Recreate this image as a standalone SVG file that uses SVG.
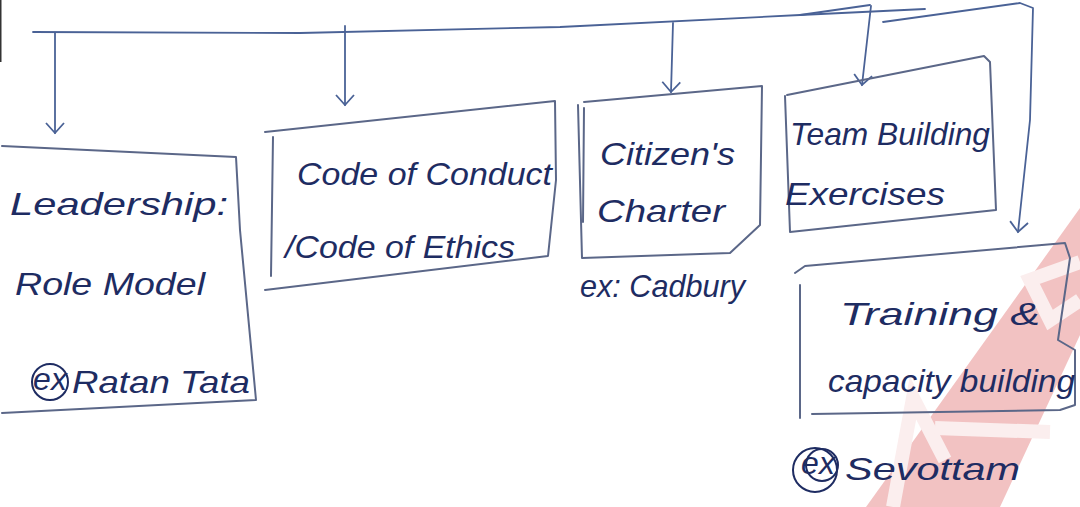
<svg xmlns="http://www.w3.org/2000/svg" width="1080" height="507" viewBox="0 0 1080 507">
<style>
.box{fill:none;stroke:#5b6788;stroke-width:2;stroke-linejoin:round;stroke-linecap:round}
.con{fill:none;stroke:#4a6296;stroke-width:1.8;stroke-linecap:round;stroke-linejoin:round}
.t{font-family:"Liberation Sans",Arial,sans-serif;font-size:32px;fill:#1e2c62;font-style:italic}
.ring{fill:none;stroke:#1e2c62;stroke-width:2}
.wm{fill:#f2c2c2}
.wmw{fill:none;stroke:#fbeeee;stroke-width:14;stroke-linecap:butt}
</style>
<defs>
<marker id="ah" viewBox="0 0 20 20" refX="18" refY="10" markerWidth="20" markerHeight="20" markerUnits="userSpaceOnUse" orient="auto">
<path d="M8,1 L18,10 L8,19" fill="none" stroke="#4a6296" stroke-width="1.8"/>
</marker>
</defs>
<rect width="1080" height="507" fill="#ffffff"/>
<g id="watermark">
<polygon class="wm" points="866,507 1080,208 1080,335 1000,507"/>
<path class="wmw" d="M893,507 L913,398 L945,460"/>
<path class="wmw" d="M935,428 L1050,432"/>
<path class="wmw" d="M1080,262 L1030,280 L1050,320 L1080,300"/>
</g>
<line x1="0" y1="0" x2="0" y2="62" stroke="#333" stroke-width="3"/>
<g id="connectors">
<path class="con" d="M33,32 L300,33 L560,27 L800,15 L925,9"/>
<path class="con" d="M800,15 L870,5"/>
<path class="con" d="M883,22 L1020,3 L1033,8 L1030,120 L1018,232" marker-end="url(#ah)"/>
<line class="con" x1="55" y1="33" x2="55" y2="133" marker-end="url(#ah)"/>
<line class="con" x1="345" y1="26" x2="345" y2="105" marker-end="url(#ah)"/>
<line class="con" x1="673" y1="23" x2="671" y2="92" marker-end="url(#ah)"/>
<line class="con" x1="871" y1="6" x2="862" y2="85" marker-end="url(#ah)"/>
</g>
<g id="node-leadership">
<path class="box" d="M2,146 L236,157 L240,230 L256,400 L2,413"/>
<text class="t" x="10" y="215" textLength="218" lengthAdjust="spacingAndGlyphs">Leadership:</text>
<text class="t" x="15" y="295" textLength="190" lengthAdjust="spacingAndGlyphs">Role Model</text>
<circle class="ring" cx="50" cy="382" r="18"/>
<text class="t" x="50" y="390" font-size="22" text-anchor="middle">ex</text>
<text class="t" x="72" y="393" textLength="178" lengthAdjust="spacingAndGlyphs">Ratan Tata</text>
</g>
<g id="node-code">
<path class="box" d="M265,132 L555,101 L556,180 L548,256 L265,290"/>
<line class="box" x1="273" y1="137" x2="271" y2="276"/>
<text class="t" x="297" y="185" textLength="255" lengthAdjust="spacingAndGlyphs">Code of Conduct</text>
<text class="t" x="285" y="258" textLength="230" lengthAdjust="spacingAndGlyphs">/Code of Ethics</text>
</g>
<g id="node-citizen">
<path class="box" d="M584,102 L762,86 L760,225 L730,253 L582,258 L578,105"/>
<line class="box" x1="584" y1="108" x2="583" y2="222"/>
<text class="t" x="600" y="165" textLength="135" lengthAdjust="spacingAndGlyphs">Citizen's</text>
<text class="t" x="597" y="222" textLength="128" lengthAdjust="spacingAndGlyphs">Charter</text>
<text class="t" x="580" y="297" textLength="165" lengthAdjust="spacingAndGlyphs">ex: Cadbury</text>
</g>
<g id="node-team">
<path class="box" d="M787,95 L984,56 L990,62 L996,210 L790,232 L785,96"/>
<text class="t" x="790" y="145" textLength="200" lengthAdjust="spacingAndGlyphs">Team Building</text>
<text class="t" x="785" y="205" textLength="160" lengthAdjust="spacingAndGlyphs">Exercises</text>
</g>
<g id="node-training">
<path class="box" d="M795,273 L805,266 L1065,243 L1070,258 L1058,340 L1075,350 L1075,405 L1060,410 L812,414"/>
<line class="box" x1="800" y1="285" x2="800" y2="418"/>
<text class="t" x="840" y="325" textLength="200" lengthAdjust="spacingAndGlyphs">Training &amp;</text>
<text class="t" x="828" y="392" textLength="247" lengthAdjust="spacingAndGlyphs">capacity building</text>
<circle class="ring" cx="815" cy="470" r="22"/>
<circle class="ring" cx="822" cy="465" r="16"/>
<text class="t" x="818" y="474" font-size="20" text-anchor="middle">ex</text>
<text class="t" x="845" y="480" textLength="175" lengthAdjust="spacingAndGlyphs">Sevottam</text>
</g>
</svg>
